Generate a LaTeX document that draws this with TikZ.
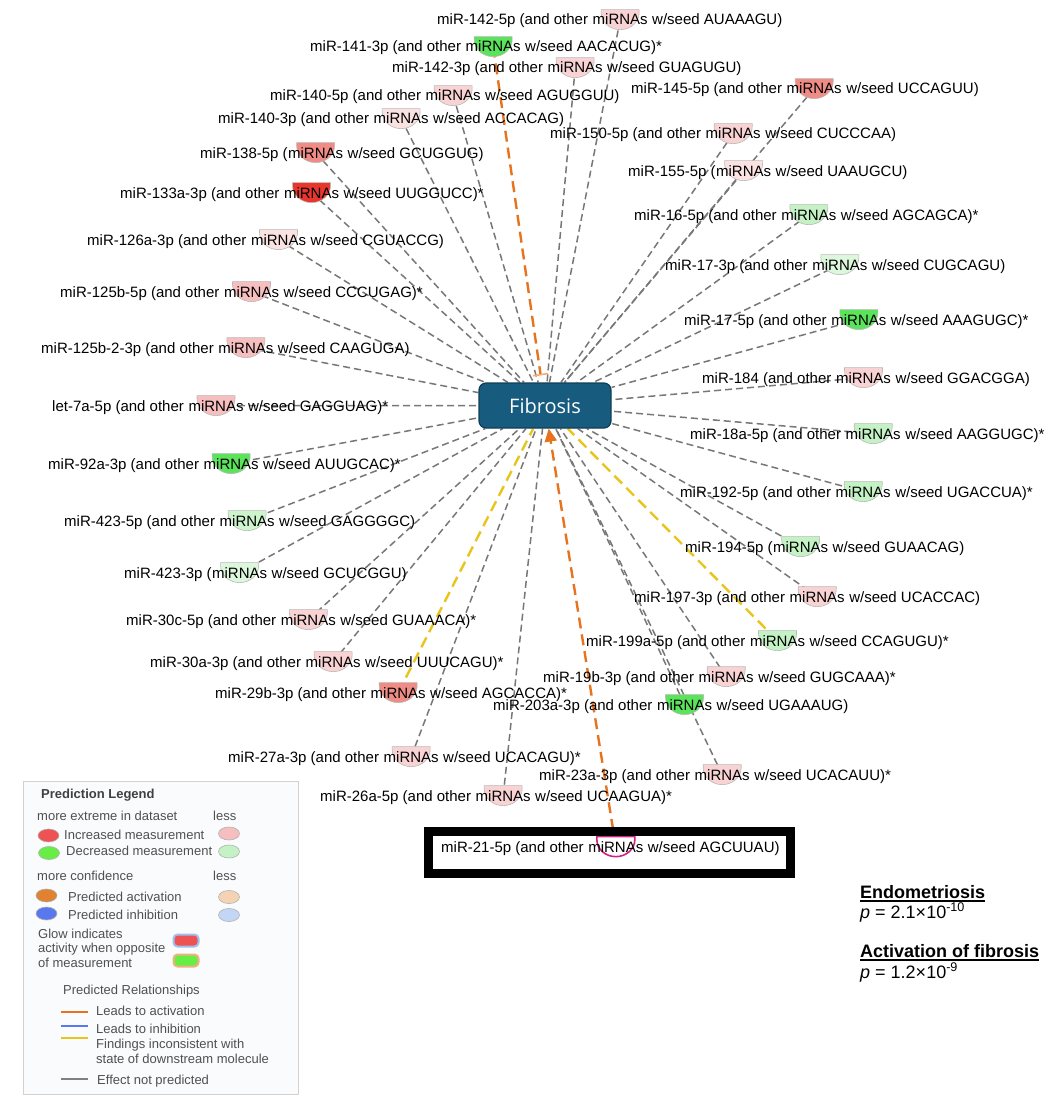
\documentclass[tikz,border=0pt]{standalone}
\usepackage{fontspec}
\setmainfont{Liberation Sans}
\newfontfamily\fibfont{Open Sans}
\usepackage{tikz}
\usetikzlibrary{arrows.meta, shapes.geometric, positioning, backgrounds}
\pgfdeclarelayer{edges}
\pgfdeclarelayer{marks}
\pgfsetlayers{edges,marks,main}

\definecolor{mirred}{HTML}{E8362F}
\definecolor{mirsalmon}{HTML}{F08C86}
\definecolor{mirrose}{HTML}{F6BEBE}
\definecolor{mirpink}{HTML}{F9D3D3}
\definecolor{mirpale}{HTML}{FBE2E2}
\definecolor{mirgreen}{HTML}{5BE35B}
\definecolor{mirlgreen}{HTML}{C4F2C4}
\definecolor{mirpgreen}{HTML}{DDF7DD}
\definecolor{fibfill}{HTML}{175B7E}
\definecolor{fibedge}{HTML}{0E3E57}
\definecolor{actorange}{HTML}{E8731E}
\definecolor{barorange}{HTML}{F4AC72}
\definecolor{badyellow}{HTML}{E8C41C}
\definecolor{edgegray}{HTML}{777777}
\definecolor{inhblue}{HTML}{5A78EE}
\definecolor{legink}{HTML}{505050}
\definecolor{legback}{HTML}{FAFBFD}
\definecolor{legred}{HTML}{EE5252}
\definecolor{leggreen}{HTML}{66EE44}
\definecolor{legorange}{HTML}{E0822F}
\definecolor{legpeach}{HTML}{F5D3B2}
\definecolor{legsky}{HTML}{C3D6F5}
\definecolor{glowblue}{HTML}{9EC0F0}
\definecolor{gloworange}{HTML}{F0B080}

\tikzset{
  pics/mirmark/.style={code={
    \path[draw=gray!55, line width=0.6pt, #1] (-19,10) -- (19,10) -- (19,7)
      arc[start angle=0, end angle=-180, x radius=19pt, y radius=17pt] -- cycle;}},
  mirtext/.style={inner sep=0pt, text=black, font=\fontsize{15}{18}\selectfont},
  fibbox/.style={draw=fibedge, fill=fibfill, line width=1.2pt, rounded corners=7pt,
    minimum width=132pt, minimum height=45pt, text=white, font=\fibfont\fontsize{20}{24}\selectfont},
  nopred/.style={draw=edgegray, line width=1.5pt, dash pattern=on 7pt off 4pt},
  actline/.style={draw=actorange, line width=2.4pt, dash pattern=on 11pt off 6pt},
  badline/.style={draw=badyellow, line width=2.4pt, dash pattern=on 11pt off 6pt},
  hilite/.style={draw=black, line width=9pt},
  legtext/.style={anchor=base west, inner sep=0pt, text=legink, font=\fontsize{13}{15}\selectfont},
  legdot/.style={ellipse, draw=gray!60, line width=0.6pt, minimum width=21pt, minimum height=13pt, inner sep=0pt},
  glowbox/.style={rounded corners=4pt, line width=2pt, minimum width=25pt, minimum height=12pt, inner sep=0pt},
  legline/.style={line width=2.5pt},
  pvhead/.style={anchor=base west, inner sep=0pt, font=\bfseries\fontsize{18}{22}\selectfont},
  pvtext/.style={anchor=base west, inner sep=0pt, font=\fontsize{18}{22}\selectfont},
  uline/.style={line width=1.4pt}
}

% name, position, mark options, miRNA, seed
\newcommand{\mirna}[5]{%
  \node[mirtext, anchor=base west] (#1-l) at #2 {#4 (and other};
  \node[mirtext, anchor=base west] (#1-w) at (#1-l.base east) {\ miRNAs};
  \node[mirtext, anchor=base west] (#1-r) at (#1-w.base east) {\ w/seed #5};
  \coordinate (#1) at ([xshift=2.1pt]#1-w.center);
  \begin{pgfonlayer}{marks}\pic at (#1) {mirmark={#3}};\end{pgfonlayer}}
\newcommand{\mirnabare}[5]{%
  \node[mirtext, anchor=base west] (#1-l) at #2 {#4 (};
  \node[mirtext, anchor=base west] (#1-w) at (#1-l.base east) {miRNAs};
  \node[mirtext, anchor=base west] (#1-r) at (#1-w.base east) {\ w/seed #5};
  \coordinate (#1) at (#1-w.center);
  \begin{pgfonlayer}{marks}\pic at (#1) {mirmark={#3}};\end{pgfonlayer}}

\begin{document}
\begin{tikzpicture}[x=1pt, y=1pt]
  \useasboundingbox (0,0) rectangle (1057,-1097);

  \node[fibbox] (fib) at (545,-405.5) {Fibrosis};

  \mirna{m142-5p}{(437,-25)}{fill=mirpink}{miR-142-5p}{AUAAAGU)}
  \mirna{m141-3p}{(310,-52)}{fill=mirgreen}{miR-141-3p}{AACACUG)*}
  \mirna{m142-3p}{(392,-73)}{fill=mirpink}{miR-142-3p}{GUAGUGU)}
  \mirna{m140-5p}{(270,-101)}{fill=mirpink}{miR-140-5p}{AGUGGUU)}
  \mirna{m145-5p}{(631,-94)}{fill=mirsalmon}{miR-145-5p}{UCCAGUU)}
  \mirna{m140-3p}{(218,-124)}{fill=mirpale}{miR-140-3p}{ACCACAG)}
  \mirna{m150-5p}{(550,-139)}{fill=mirpink}{miR-150-5p}{CUCCCAA)}
  \mirnabare{m138-5p}{(200,-158)}{fill=mirsalmon}{miR-138-5p}{GCUGGUG)}
  \mirnabare{m155-5p}{(628,-176)}{fill=mirpale}{miR-155-5p}{UAAUGCU)}
  \mirna{m133a-3p}{(120,-198)}{fill=mirred}{miR-133a-3p}{UUGGUCC)*}
  \mirna{m16-5p}{(634,-220)}{fill=mirlgreen}{miR-16-5p}{AGCAGCA)*}
  \mirna{m126a-3p}{(87,-245)}{fill=mirpale}{miR-126a-3p}{CGUACCG)}
  \mirna{m17-3p}{(665,-270)}{fill=mirpgreen}{miR-17-3p}{CUGCAGU)}
  \mirna{m125b-5p}{(60,-297)}{fill=mirrose}{miR-125b-5p}{CCCUGAG)*}
  \mirna{m17-5p}{(684,-325)}{fill=mirgreen}{miR-17-5p}{AAAGUGC)*}
  \mirna{m125b-2-3p}{(41,-353)}{fill=mirrose}{miR-125b-2-3p}{CAAGUGA)}
  \mirna{m184}{(702,-383)}{fill=mirpink}{miR-184}{GGACGGA)}
  \mirna{let7a-5p}{(52,-411)}{fill=mirrose}{let-7a-5p}{GAGGUAG)*}
  \mirna{m18a-5p}{(690,-439)}{fill=mirlgreen}{miR-18a-5p}{AAGGUGC)*}
  \mirna{m92a-3p}{(48,-469)}{fill=mirgreen}{miR-92a-3p}{AUUGCAC)*}
  \mirna{m192-5p}{(680,-497)}{fill=mirlgreen}{miR-192-5p}{UGACCUA)*}
  \mirna{m423-5p}{(64,-526)}{fill=mirlgreen!60!mirpgreen}{miR-423-5p}{GAGGGGC)}
  \mirnabare{m194-5p}{(685,-552)}{fill=mirlgreen}{miR-194-5p}{GUAACAG)}
  \mirnabare{m423-3p}{(124,-578)}{fill=mirpgreen}{miR-423-3p}{GCUCGGU)}
  \mirna{m197-3p}{(634,-602)}{fill=mirpink}{miR-197-3p}{UCACCAC)}
  \mirna{m30c-5p}{(126,-625)}{fill=mirpink}{miR-30c-5p}{GUAAACA)*}
  \mirna{m199a-5p}{(586,-646)}{fill=mirlgreen}{miR-199a-5p}{CCAGUGU)*}
  \mirna{m30a-3p}{(150,-667)}{fill=mirpink}{miR-30a-3p}{UUUCAGU)*}
  \mirna{m19b-3p}{(543,-682)}{fill=mirpink}{miR-19b-3p}{GUGCAAA)*}
  \mirna{m29b-3p}{(215,-698)}{fill=mirsalmon}{miR-29b-3p}{AGCACCA)*}
  \mirna{m203a-3p}{(493,-710)}{fill=mirgreen}{miR-203a-3p}{UGAAAUG)}
  \mirna{m27a-3p}{(228,-762)}{fill=mirpink}{miR-27a-3p}{UCACAGU)*}
  \mirna{m23a-3p}{(539,-780)}{fill=mirpink}{miR-23a-3p}{UCACAUU)*}
  \mirna{m26a-5p}{(320,-801)}{fill=mirpink}{miR-26a-5p}{UCAAGUA)*}
  \mirna{m21-5p}{(441,-852)}{fill=white, draw=magenta!85!black, line width=1.6pt}{miR-21-5p}{AGCUUAU)}

  \draw[hilite] ([xshift=-12.5pt, yshift=9.6pt]m21-5p-l.north west) rectangle ([xshift=10.5pt, yshift=-18.3pt]m21-5p-r.south east);

  \begin{pgfonlayer}{edges}
    \foreach \m in {m142-5p, m142-3p, m140-5p, m145-5p, m140-3p, m150-5p, m138-5p,
      m155-5p, m133a-3p, m16-5p, m126a-3p, m17-3p, m125b-5p, m17-5p, m125b-2-3p,
      m184, let7a-5p, m18a-5p, m92a-3p, m192-5p, m423-5p, m194-5p, m423-3p,
      m197-3p, m30c-5p, m30a-3p, m19b-3p, m203a-3p, m27a-3p, m23a-3p, m26a-5p}
      \draw[nopred] (\m) -- (fib);
    \draw[actline, shorten >=7pt, -{Bar[width=15pt, line width=1.6pt, color=barorange]}] (m141-3p) -- (fib);
    \draw[actline, -{Triangle[width=12pt, length=13pt]}] (m21-5p) -- (fib);
    \draw[badline] (m29b-3p) -- (fib);
    \draw[badline] (m199a-5p) -- (fib);
  \end{pgfonlayer}

  % legend
  \draw[draw=gray!35, fill=legback, line width=0.8pt] (23,-781) rectangle (298,-1094);
  \node[legtext, font=\bfseries\fontsize{13}{15}\selectfont, text=black!75] (leg-title) at (41,-798) {Prediction Legend};
  \node[legtext] (leg-ext) at (37,-820) {more extreme in dataset};
  \node[legtext] (leg-less1) at (213,-820) {less};
  \node[legdot, fill=legred] (dot-inc) at (48.5,-835.5) {};
  \node[legtext] (leg-inc) at (64,-839) {Increased measurement};
  \node[legdot, fill=mirrose] (dot-inc2) at (229,-833.5) {};
  \node[legdot, fill=leggreen] (dot-dec) at (49,-853) {};
  \node[legtext] (leg-dec) at (66,-855) {Decreased measurement};
  \node[legdot, fill=mirlgreen] (dot-dec2) at (229,-851.5) {};
  \node[legtext] (leg-conf) at (37,-880) {more confidence};
  \node[legtext] (leg-less2) at (213,-880) {less};
  \node[legdot, fill=legorange] (dot-act) at (46.5,-895.5) {};
  \node[legtext] (leg-act) at (68,-901) {Predicted activation};
  \node[legdot, fill=legpeach] (dot-act2) at (229,-897) {};
  \node[legdot, fill=inhblue] (dot-inh) at (46.5,-913.5) {};
  \node[legtext] (leg-inh) at (68,-919) {Predicted inhibition};
  \node[legdot, fill=legsky] (dot-inh2) at (229,-915) {};
  \node[legtext] (leg-glow1) at (38,-938) {Glow indicates};
  \node[legtext] (leg-glow2) at (38,-952) {activity when opposite};
  \node[legtext] (leg-glow3) at (38,-967) {of measurement};
  \node[glowbox, fill=legred, draw=glowblue] (glow-red) at (186,-940.5) {};
  \node[glowbox, fill=leggreen, draw=gloworange] (glow-green) at (186,-960.5) {};
  \node[legtext] (leg-rel) at (63,-994) {Predicted Relationships};
  \draw[legline, actorange] (61,-1012) -- (88,-1012);
  \node[legtext] (leg-la) at (96,-1015) {Leads to activation};
  \draw[legline, inhblue] (61,-1026) -- (88,-1026);
  \node[legtext] (leg-li) at (96,-1033) {Leads to inhibition};
  \draw[legline, badyellow] (61,-1038) -- (88,-1038);
  \node[legtext] (leg-fi1) at (96,-1048) {Findings inconsistent with};
  \node[legtext] (leg-fi2) at (96,-1063) {state of downstream molecule};
  \draw[legline, gray] (61,-1079) -- (88,-1079);
  \node[legtext] (leg-np) at (97,-1084) {Effect not predicted};

  % p-values
  \node[pvhead] (endo) at (860,-898) {Endometriosis};
  \draw[uline] ([yshift=-3pt]endo.base west) -- ([yshift=-3pt]endo.base east);
  \node[pvtext] (endo-p) at (860,-918) {\textit{p} = 2.1×10\textsuperscript{-10}};
  \node[pvhead] (fibact) at (860,-957) {Activation of fibrosis};
  \draw[uline] ([yshift=-3pt]fibact.base west) -- ([yshift=-3pt]fibact.base east);
  \node[pvtext] (fibact-p) at (860,-978) {\textit{p} = 1.2×10\textsuperscript{-9}};
\end{tikzpicture}
\end{document}
